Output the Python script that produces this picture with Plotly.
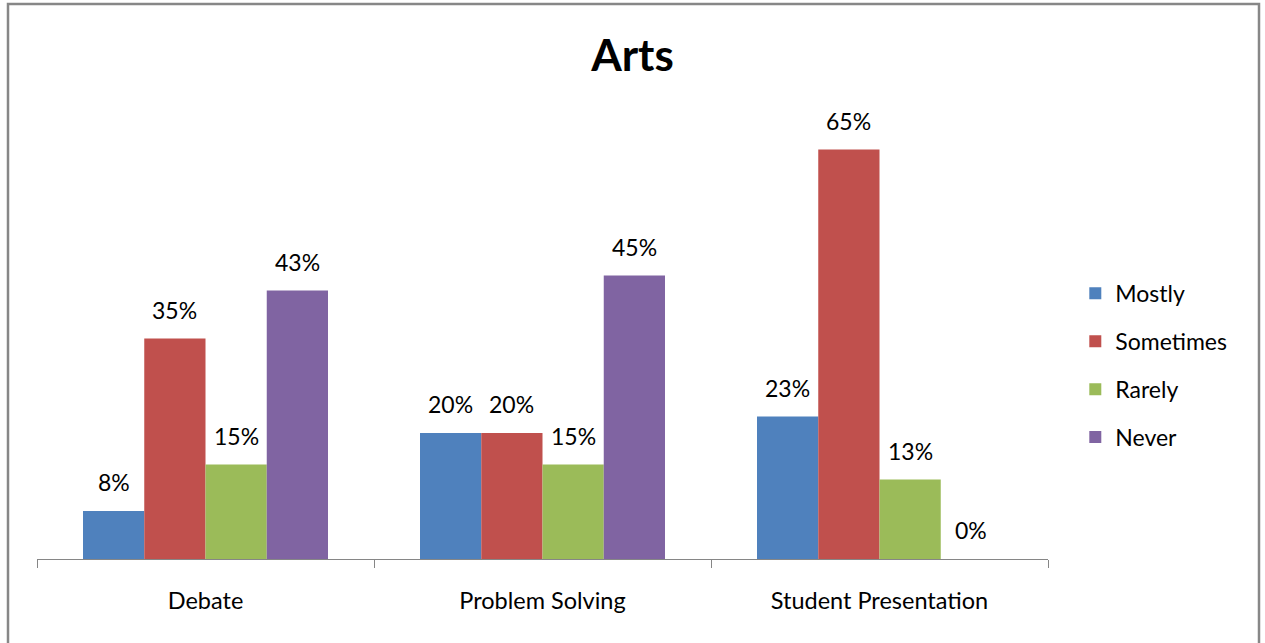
import plotly.graph_objects as go

categories = ["Debate", "Problem Solving", "Student Presentation"]
series_names = ["Mostly", "Sometimes", "Rarely", "Never"]
mostly = [7.6, 20.0, 22.6]
sometimes = [35.0, 20.0, 65.0]
rarely = [15.0, 15.0, 12.6]
never = [42.6, 45.0, 0.0]
colors = ["#4F81BD", "#C0504D", "#9BBB59", "#8064A2"]

series_values = [mostly, sometimes, rarely, never]

FONT = "Lato, 'Open Sans', sans-serif"
bargap = 0.273

fig = go.Figure()
for j, (name, vals, col) in enumerate(zip(series_names, series_values, colors)):
    fig.add_trace(go.Bar(
        x=categories, y=vals, name=name, marker_color=col,
        marker_line_width=0, legendgroup=name, hoverinfo="skip",
    ))

# data labels, placed above each bar
n = len(series_names)
w = (1 - bargap) / n
annotations = []
for j, vals in enumerate(series_values):
    for i, v in enumerate(vals):
        annotations.append(dict(
            x=i + (j - (n - 1) / 2) * w, y=v, xref="x", yref="y",
            text=f"{v:.0f}%", showarrow=False, yanchor="middle", yshift=29,
            font=dict(family=FONT, size=23, color="black"),
        ))

fig.update_layout(
    width=1265, height=643,
    margin=dict(l=37, r=217, t=118, b=84),
    paper_bgcolor="white", plot_bgcolor="white",
    barmode="group", bargap=bargap, bargroupgap=0,
    title=dict(text="<b>Arts</b>", x=0.5, xanchor="center", y=1 - 56 / 643,
               yanchor="middle", font=dict(family=FONT, size=44, color="black")),
    font=dict(family=FONT, size=23, color="black"),
    xaxis=dict(
        showline=True, linecolor="#868686", linewidth=1,
        ticks="outside", tickson="boundaries", ticklen=8, tickcolor="#868686",
        tickfont=dict(family=FONT, size=23.5, color="black"),
        ticklabelstandoff=21, showgrid=False, zeroline=False,
    ),
    yaxis=dict(range=[0, 70], visible=False, showgrid=False, zeroline=False),
    legend=dict(
        x=1.027, xanchor="left", y=0.651, yanchor="top",
        traceorder="grouped", tracegroupgap=15,
        font=dict(family=FONT, size=23, color="black"),
        bgcolor="rgba(0,0,0,0)",
    ),
    annotations=annotations,
    shapes=[dict(
        type="rect", xref="paper", yref="paper",
        x0=(8 - 37) / 1011, x1=(1259 - 37) / 1011,
        y0=-0.4, y1=(559 - 4) / 441,
        line=dict(color="#878787", width=2.5), fillcolor="rgba(0,0,0,0)",
        layer="below",
    )],
)

fig.write_html("out.html", config={"displayModeBar": False},
               post_script="document.body.style.margin='0px';")
